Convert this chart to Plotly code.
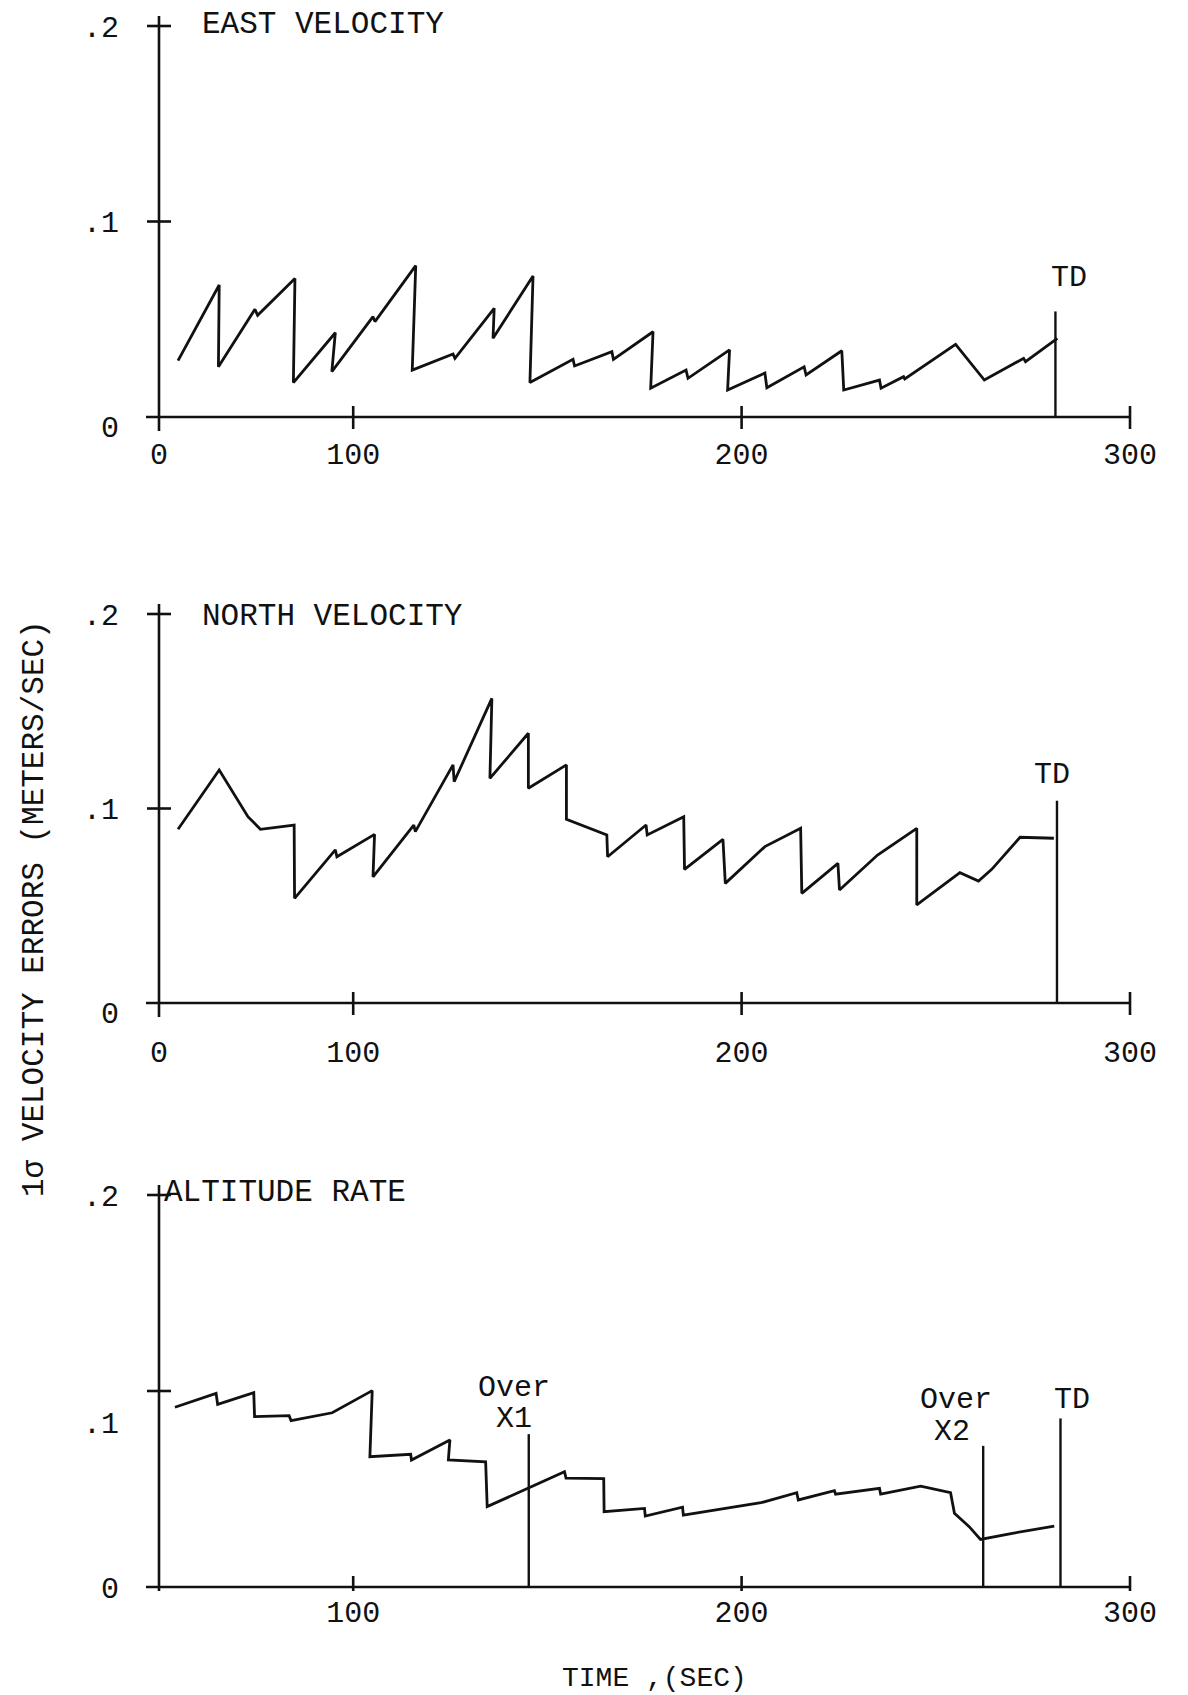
import plotly.graph_objects as go

# ---------------------------------------------------------------------------
# Values
# ---------------------------------------------------------------------------
# The vertical axis stands at t = 50 s on the time scale and carries the "0".
TIME_TICKS = [50, 100, 200, 300]
TIME_LABELS = ["0", "100", "200", "300"]
ERR_TICKS = [0.1, 0.2]
ERR_LABELS = ["0", ".1", ".2"]

PANEL_TITLES = ["EAST VELOCITY", "NORTH VELOCITY", "ALTITUDE RATE"]
Y_TITLE = "1\u03c3 VELOCITY ERRORS (METERS/SEC)"
X_TITLE = "TIME ,(SEC)"

east_time = [54.9, 65.5, 65.3, 74.7, 75.4, 85.0, 84.6, 95.4, 94.5, 105.1, 105.6,
             116.1, 115.2, 125.7, 126.2, 136.3, 136.0, 146.3, 145.5, 156.6, 157.0,
             166.6, 167.0, 177.2, 176.6, 185.7, 186.2, 196.9, 196.4, 206.0, 206.5,
             216.1, 216.6, 225.8, 226.3, 235.5, 235.9, 241.7, 242.0, 246.6, 255.1,
             262.5, 272.6, 273.1, 281.3]
east_err = [0.0288, 0.0675, 0.0257, 0.0551, 0.0520, 0.0709, 0.0176, 0.0431, 0.0232,
            0.0513, 0.0488, 0.0774, 0.0240, 0.0322, 0.0300, 0.0556, 0.0403, 0.0721,
            0.0176, 0.0295, 0.0261, 0.0334, 0.0295, 0.0436, 0.0147, 0.0240, 0.0198,
            0.0343, 0.0138, 0.0225, 0.0150, 0.0257, 0.0215, 0.0339, 0.0138, 0.0189,
            0.0147, 0.0206, 0.0195, 0.0257, 0.0372, 0.0189, 0.0300, 0.0283, 0.0402]

north_time = [54.9, 65.5, 72.9, 76.1, 84.8, 84.9, 95.4, 95.8, 105.5, 105.1, 115.6,
              116.0, 125.7, 126.0, 135.7, 135.2, 145.1, 145.1, 154.9, 154.9, 165.3,
              165.5, 175.4, 175.7, 185.1, 185.3, 195.2, 195.8, 206.0, 215.2, 215.5,
              224.8, 225.2, 235.0, 245.1, 245.1, 256.2, 261.0, 264.4, 271.7, 280.4]
north_err = [0.0893, 0.1198, 0.0958, 0.0893, 0.0915, 0.0538, 0.0787, 0.0752, 0.0867,
             0.0649, 0.0915, 0.0881, 0.1224, 0.1138, 0.1566, 0.1155, 0.1387, 0.1104,
             0.1224, 0.0944, 0.0864, 0.0752, 0.0915, 0.0864, 0.0958, 0.0687, 0.0841,
             0.0615, 0.0804, 0.0898, 0.0564, 0.0718, 0.0581, 0.0761, 0.0898, 0.0504,
             0.0670, 0.0627, 0.0687, 0.0852, 0.0847]

alt_time = [54.1, 62.4, 64.7, 65.1, 74.4, 74.6, 83.5, 84.0, 94.6, 104.9, 104.3,
            114.8, 115.0, 124.9, 124.5, 134.1, 134.5, 154.4, 154.8, 164.5, 164.6,
            175.0, 175.2, 184.8, 185.0, 205.0, 214.2, 214.6, 223.9, 224.2, 235.5,
            235.8, 246.1, 253.8, 254.8, 258.6, 261.5, 269.7, 280.5]
alt_err = [0.0917, 0.0971, 0.0988, 0.0932, 0.0991, 0.0869, 0.0874, 0.0849, 0.0889,
           0.1002, 0.0665, 0.0677, 0.0648, 0.0750, 0.0648, 0.0639, 0.0410, 0.0588,
           0.0555, 0.0553, 0.0384, 0.0401, 0.0362, 0.0407, 0.0367, 0.0430, 0.0481,
           0.0444, 0.0491, 0.0474, 0.0503, 0.0474, 0.0515, 0.0481, 0.0376, 0.0308,
           0.0243, 0.0274, 0.0311]

# Event markers: touchdown in every panel, station overflights in the last one
touchdown_time = [280.8, 281.2, 282.1]
touchdown_top = [0.054, 0.104, 0.086]
over_x1_time, over_x1_top = 145.2, 0.078
over_x2_time, over_x2_top = 262.2, 0.072

# ---------------------------------------------------------------------------
# Page geometry (pixels)
# ---------------------------------------------------------------------------
W, H = 1188, 1695
PLOT_L, PLOT_R = 120, 1150
AXIS_X_PX = 159            # where the vertical axis stands
PX_PER_SEC = 3.884
T_AXIS = 50.0
T_END = 300.0

# zero line, 0.2 line, top and bottom of each plotting box
PANELS_PX = [
    dict(y0=417, y2=26, top=5, bottom=433),
    dict(y0=1003, y2=614, top=595, bottom=1031),
    dict(y0=1587, y2=1195, top=1180, bottom=1591),
]

FONT = "Liberation Mono, Courier New, monospace"
INK = "#111111"
LINE_W = 2.8
AXIS_W = 2.6

x_range = [T_AXIS - (AXIS_X_PX - PLOT_L) / PX_PER_SEC,
           T_AXIS + (PLOT_R - AXIS_X_PX) / PX_PER_SEC]

series = [(east_time, east_err), (north_time, north_err), (alt_time, alt_err)]

fig = go.Figure()
layout = dict(
    width=W, height=H, autosize=False,
    margin=dict(l=0, r=0, t=0, b=0),
    paper_bgcolor="white", plot_bgcolor="white",
    showlegend=False, hovermode=False,
    font=dict(family=FONT, color=INK, size=30),
)
shapes = []
annotations = []


def px_x(px):
    return px / W


def px_y(py):
    return 1 - py / H


for i, (p, (tt, vv)) in enumerate(zip(PANELS_PX, series)):
    n = "" if i == 0 else str(i + 1)
    xref, yref = "x" + n, "y" + n
    k = (p["y0"] - p["y2"]) / 0.2            # pixels per unit of error
    y_range = [-(p["bottom"] - p["y0"]) / k, (p["y0"] - p["top"]) / k]

    if i < 2:
        xt, xl = TIME_TICKS, TIME_LABELS
        yt = [-0.005] + ERR_TICKS
    else:
        xt, xl = TIME_TICKS[1:], TIME_LABELS[1:]
        yt = [0.0, 0.084, 0.2]

    layout["xaxis" + n] = dict(
        domain=[px_x(PLOT_L), px_x(PLOT_R)], range=x_range, anchor=yref,
        showgrid=False, zeroline=False, showline=False, ticks="",
        tickmode="array", tickvals=xt, ticktext=xl,
        tickfont=dict(family=FONT, size=30, color=INK), automargin=False,
        fixedrange=True,
    )
    layout["yaxis" + n] = dict(
        domain=[px_y(p["bottom"]), px_y(p["top"])], range=y_range, anchor=xref,
        showgrid=False, zeroline=False, showline=False, ticks="",
        tickmode="array", tickvals=yt, ticktext=ERR_LABELS,
        tickfont=dict(family=FONT, size=30, color=INK), automargin=False,
        fixedrange=True,
    )

    # error history
    fig.add_trace(go.Scatter(
        x=tt, y=vv, mode="lines", xaxis=xref, yaxis=yref,
        line=dict(color=INK, width=LINE_W), hoverinfo="skip",
    ))

    ln = dict(type="line", xref=xref, yref=yref, layer="above")
    # time axis and error axis
    shapes.append({**ln, "x0": T_AXIS - 13 / PX_PER_SEC, "x1": T_END, "y0": 0, "y1": 0,
                   "line": dict(color=INK, width=AXIS_W)})
    shapes.append({**ln, "x0": T_AXIS, "x1": T_AXIS, "y0": -14 / k, "y1": 0.2 + 10 / k,
                   "line": dict(color=INK, width=AXIS_W)})
    # cross ticks on the error axis
    for v in ERR_TICKS:
        shapes.append({**ln, "x0": T_AXIS - 12 / PX_PER_SEC, "x1": T_AXIS + 12 / PX_PER_SEC,
                       "y0": v, "y1": v, "line": dict(color=INK, width=AXIS_W)})
    # cross ticks on the time axis
    for t in TIME_TICKS[1:]:
        lo = 18 if i == 2 else 12
        shapes.append({**ln, "x0": t, "x1": t, "y0": -lo / k, "y1": 11 / k,
                       "line": dict(color=INK, width=AXIS_W)})

    # touchdown marker
    shapes.append({**ln, "x0": touchdown_time[i], "x1": touchdown_time[i],
                   "y0": 0, "y1": touchdown_top[i], "line": dict(color=INK, width=2.4)})

    # panel title
    title_left = 200 if i < 2 else 162
    title_y = [24, 616, 1192][i]
    annotations.append(dict(
        text=PANEL_TITLES[i], xref="paper", yref="paper",
        x=px_x(title_left), y=px_y(title_y), xanchor="left", yanchor="middle",
        showarrow=False, font=dict(family=FONT, size=31, color=INK),
    ))

# overflight markers in the altitude-rate panel
for t, top in [(over_x1_time, over_x1_top), (over_x2_time, over_x2_top)]:
    shapes.append(dict(type="line", xref="x3", yref="y3", layer="above",
                       x0=t, x1=t, y0=0, y1=top, line=dict(color=INK, width=2.4)))

# event labels (centre positions in pixels)
event_labels = [
    ("TD", 1069, 278), ("TD", 1052, 775), ("TD", 1072, 1400),
    ("Over", 514, 1388), ("X1", 514, 1419),
    ("Over", 956, 1400), ("X2", 952, 1432),
]
for txt, cx, cy in event_labels:
    annotations.append(dict(
        text=txt, xref="paper", yref="paper", x=px_x(cx), y=px_y(cy),
        xanchor="center", yanchor="middle", showarrow=False,
        font=dict(family=FONT, size=30, color=INK),
    ))

# shared axis titles
annotations.append(dict(
    text=Y_TITLE, xref="paper", yref="paper", x=px_x(34), y=px_y(909),
    xanchor="center", yanchor="middle", textangle=-90, showarrow=False,
    font=dict(family=FONT, size=31, color=INK),
))
annotations.append(dict(
    text=X_TITLE, xref="paper", yref="paper", x=px_x(654), y=px_y(1678),
    xanchor="center", yanchor="middle", showarrow=False,
    font=dict(family=FONT, size=28, color=INK),
))

layout["shapes"] = shapes
layout["annotations"] = annotations
fig.update_layout(**layout)

fig.write_html("out.html", config={"displayModeBar": False, "staticPlot": True})
